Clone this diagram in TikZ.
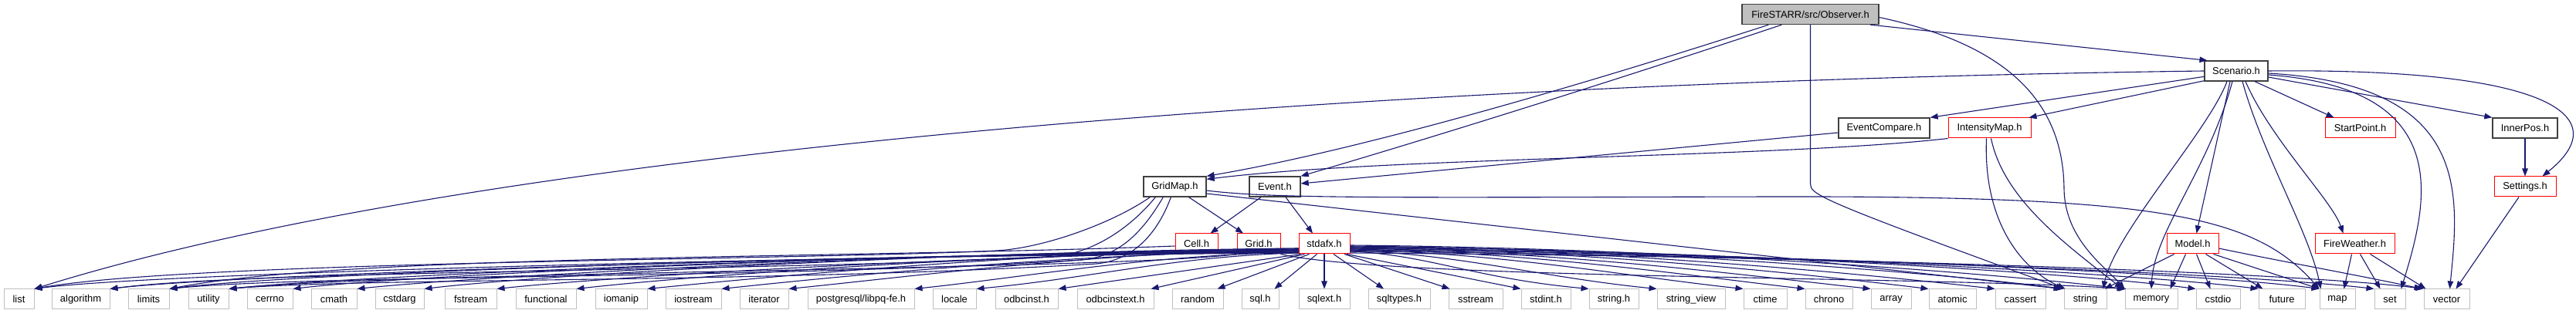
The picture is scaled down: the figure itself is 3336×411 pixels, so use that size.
\documentclass[tikz,border=0pt]{standalone}
\usepackage{fontspec}
\setmainfont{Liberation Sans}
\usetikzlibrary{arrows.meta}
\definecolor{navy}{HTML}{191970}
\definecolor{boxgray}{HTML}{BFBFBF}
\definecolor{boxdark}{HTML}{404040}
\newcommand\mknode[6]{\node[#2, minimum width=#4-#3] (#1) at ({(#3+#4)/2}, -#5) {#6};}
\newcommand\sdL[4]{\draw[dep] ([yshift=#2]sd.west) .. controls +(-#3,-4) and +(150,#4) .. (#1.north east);}
\newcommand\sdR[4]{\draw[dep] ([yshift=#2]sd.east) .. controls +(#3,-4) and +(-150,#4) .. (#1.north west);}
\begin{document}
\begin{tikzpicture}[x=1pt,y=1pt,
  base/.style={draw, rectangle, inner sep=0pt, minimum height=26pt, line width=1pt,
    font=\fontsize{12.9}{15}\selectfont, text=black},
  gbox/.style={base, draw=boxgray},
  rbox/.style={base, draw=red},
  dbox/.style={base, draw=boxdark, line width=1.3pt},
  rootbox/.style={base, draw=boxdark, fill=boxgray, line width=1.3pt},
  dep/.style={draw=navy, line width=1.1pt, -{Triangle[length=10pt,width=7.5pt]}}]
\fill[white] (0,0) rectangle (3336,-411);
\useasboundingbox (0,0) rectangle (3336,-411);
% top rows
\mknode{obs}{rootbox}{2256}{2433}{18.5}{FireSTARR/src/Observer.h}
\mknode{sc}{dbox}{2855}{2937}{92}{Scenario.h}
\mknode{ec}{dbox}{2381}{2499}{166}{EventCompare.h}
\mknode{im}{rbox}{2523}{2630}{166}{IntensityMap.h}
\mknode{sp}{rbox}{3011}{3102}{166}{StartPoint.h}
\mknode{ip}{dbox}{3228}{3312}{166}{InnerPos.h}
\mknode{gm}{dbox}{1481}{1562}{242}{GridMap.h}
\mknode{ev}{dbox}{1618}{1684}{242}{Event.h}
\mknode{st}{rbox}{3230}{3310}{242}{Settings.h}
\mknode{cell}{rbox}{1522}{1577}{316}{Cell.h}
\mknode{grid}{rbox}{1602}{1658}{316}{Grid.h}
\mknode{sd}{rbox}{1682}{1748}{316}{stdafx.h}
\mknode{md}{rbox}{2806}{2873}{316}{Model.h}
\mknode{fw}{rbox}{2998}{3101}{316}{FireWeather.h}
% bottom row
\mknode{list}{gbox}{5}{44}{388}{list}
\mknode{algorithm}{gbox}{67}{142}{388}{algorithm}
\mknode{limits}{gbox}{166}{219}{388}{limits}
\mknode{utility}{gbox}{244}{296}{388}{utility}
\mknode{cerrno}{gbox}{320}{379}{388}{cerrno}
\mknode{cmath}{gbox}{403}{462}{388}{cmath}
\mknode{cstdarg}{gbox}{486}{549}{388}{cstdarg}
\mknode{fstream}{gbox}{576}{643}{388}{fstream}
\mknode{functional}{gbox}{668}{746}{388}{functional}
\mknode{iomanip}{gbox}{771}{838}{388}{iomanip}
\mknode{iostream}{gbox}{862}{934}{388}{iostream}
\mknode{iterator}{gbox}{958}{1021}{388}{iterator}
\mknode{pg}{gbox}{1046}{1184}{388}{postgresql/libpq-fe.h}
\mknode{locale}{gbox}{1208}{1264}{388}{locale}
\mknode{odbcinst}{gbox}{1289}{1370}{388}{odbcinst.h}
\mknode{odbcinstext}{gbox}{1395}{1494}{388}{odbcinstext.h}
\mknode{random}{gbox}{1518}{1584}{388}{random}
\mknode{sqlh}{gbox}{1608}{1656}{388}{sql.h}
\mknode{sqlext}{gbox}{1682}{1748}{388}{sqlext.h}
\mknode{sqltypes}{gbox}{1772}{1852}{388}{sqltypes.h}
\mknode{sstream}{gbox}{1876}{1946}{388}{sstream}
\mknode{stdint}{gbox}{1970}{2034}{388}{stdint.h}
\mknode{stringh}{gbox}{2058}{2122}{388}{string.h}
\mknode{strview}{gbox}{2146}{2234}{388}{string\_view}
\mknode{ctime}{gbox}{2258}{2314}{388}{ctime}
\mknode{chrono}{gbox}{2338}{2399}{388}{chrono}
\mknode{array}{gbox}{2423}{2475}{388}{array}
\mknode{atomic}{gbox}{2498}{2559}{388}{atomic}
\mknode{cassert}{gbox}{2584}{2649}{388}{cassert}
\mknode{string}{gbox}{2673}{2728}{388}{string}
\mknode{memory}{gbox}{2752}{2820}{388}{memory}
\mknode{cstdio}{gbox}{2844}{2901}{388}{cstdio}
\mknode{future}{gbox}{2925}{2985}{388}{future}
\mknode{map}{gbox}{3004}{3050}{388}{map}
\mknode{set}{gbox}{3075}{3115}{388}{set}
\mknode{vector}{gbox}{3139}{3198}{388}{vector}
% Observer
\draw[dep] ([xshift=35]obs.south west) .. controls (2050,-110) and (1760,-195) .. (gm.north east);
\draw[dep] ([xshift=52]obs.south west) .. controls (2150,-85) and (1900,-165) .. (ev.north east);
\draw[dep] (obs.-10) -- (sc.160);
\draw[dep] (obs.south) -- (2344.5,-238) .. controls (2344.5,-252) and (2352,-258) .. (string.north west);
\draw[dep] ([yshift=-4]obs.east) .. controls (2610,-60) and (2672,-140) .. (2673,-245) .. controls (2674,-310) and (2725,-345) .. (memory.north west);
% Scenario
\draw[dep] (sc.west) .. controls (2000,-103) and (700,-170) .. (list.north east);
\draw[dep] (sc.190) -- (ec.north east);
\draw[dep] (sc.197) -- ([xshift=-3]im.north east);
\draw[dep] ([xshift=24]sc.south) -- ([xshift=12]sp.north west);
\draw[dep] ([yshift=-8]sc.east) -- (ip.north west);
\draw[dep] (sc.east) .. controls (3300,-88) and (3390,-150) .. ([xshift=-18]st.north east);
\draw[dep] ([xshift=-8]sc.south) -- ([xshift=5]md.north);
\draw[dep] ([xshift=12]sc.south) .. controls (2940,-180) and (3020,-260) .. ([xshift=-15]fw.north);
\draw[dep] ([xshift=-12]sc.south) .. controls (2860,-170) and (2740,-300) .. ([xshift=-5]string.north east);
\draw[dep] ([xshift=-5]sc.south) .. controls (2860,-220) and (2790,-300) .. (memory.north);
\draw[dep] ([xshift=8]sc.south) .. controls (2930,-200) and (2990,-300) .. ([xshift=2]map.north west);
\draw[dep] ([yshift=-5]sc.east) .. controls (3180,-115) and (3145,-260) .. ([xshift=-6]set.north east);
\draw[dep] ([yshift=-3]sc.east) .. controls (3200,-110) and (3185,-250) .. ([xshift=4]vector.north);
% IntensityMap
\draw[dep] (im.south west) .. controls (2300,-205) and (1800,-203) .. ([yshift=-4]gm.north east);
\draw[dep] ([xshift=-4]im.south) .. controls (2568,-290) and (2620,-350) .. ([xshift=2]string.north west);
\draw[dep] ([xshift=2]im.south) .. controls (2595,-260) and (2680,-320) .. ([xshift=-3]memory.north west);
% EventCompare
\draw[dep] ([yshift=-6]ec.west) -- ([yshift=4]ev.east);
% GridMap
\draw[dep] ([xshift=18]gm.south) -- ([xshift=-20]grid.north);
\draw[dep] ([yshift=-5]gm.east) .. controls (1650,-258) and (1800,-256) .. (2300,-255) .. controls (2800,-254) and (2920,-280) .. (map.north west);
\draw[dep] ([yshift=-9]gm.east) -- ([xshift=-3]string.north west);
\draw[dep] ([xshift=9]gm.south west) .. controls (1440,-290) and (1350,-322) .. (1290,-325) .. controls (1050,-337) and (250,-338) .. (list.north east);
\draw[dep] ([xshift=16]gm.south west) .. controls (1460,-300) and (1410,-330) .. (1360,-333) .. controls (1000,-352) and (330,-350) .. (algorithm.north east);
\draw[dep] ([xshift=26]gm.south west) .. controls (1480,-300) and (1450,-333) .. (1400,-337) .. controls (1000,-362) and (400,-356) .. (limits.north east);
\draw[dep] ([xshift=36]gm.south west) .. controls (1500,-300) and (1470,-337) .. (1420,-342) .. controls (1000,-367) and (470,-360) .. (utility.north east);
% Cell, Grid
\draw[dep] ([yshift=-3]cell.west) .. controls (1100,-335) and (450,-330) .. (limits.north east);
\draw[dep] (grid.south west) .. controls (1450,-350) and (520,-352) .. (utility.north east);
\draw[dep] (grid.south east) .. controls (1800,-362) and (2500,-358) .. ([xshift=2]memory.north west);
% Event
\draw[dep] ([xshift=-18]ev.south) -- ([xshift=-10]cell.north east);
\draw[dep] ([xshift=14]ev.south) -- ([xshift=-15]sd.north);
% Model
\draw[dep] ([xshift=10]md.south west) -- ([xshift=-3]string.north east);
\draw[dep] ([xshift=25]md.south west) -- ([xshift=-10]memory.north east);
\draw[dep] ([xshift=5]md.south) -- ([xshift=-10]cstdio.north);
\draw[dep] ([xshift=17]md.south) -- ([xshift=6]future.north west);
\draw[dep] ([xshift=27]md.south) -- (map.north west);
\draw[dep] ([yshift=-6]md.east) .. controls (2960,-340) and (3060,-358) .. ([xshift=-2]vector.north west);
% FireWeather
\draw[dep] ([xshift=-4]fw.south) -- ([xshift=-15]map.north east);
\draw[dep] ([xshift=7]fw.south) -- ([xshift=8]set.north west);
\draw[dep] ([xshift=20]fw.south) -- ([xshift=3]vector.north west);
% Settings, InnerPos
\draw[dep] ([xshift=-8]st.south) -- ([xshift=12]vector.north);
\draw[dep] (ip) -- (st);
% stdafx left
\sdL{list}{-12}{650}{20}
\sdL{algorithm}{-11}{620}{18}
\sdL{limits}{-10}{590}{20}
\sdL{utility}{-9}{560}{16}
\sdL{cerrno}{-8}{520}{18}
\sdL{cmath}{-7}{490}{16}
\sdL{cstdarg}{-6}{450}{18}
\sdL{fstream}{-10}{420}{16}
\sdL{functional}{-8}{380}{17}
\sdL{iomanip}{-6}{340}{15}
\sdL{iostream}{-9}{300}{16}
\sdL{iterator}{-7}{260}{15}
\sdL{pg}{-11}{200}{16}
\sdL{locale}{-12}{160}{14}
\draw[dep] ([xshift=3]sd.south west) -- (odbcinst.north east);
\draw[dep] ([xshift=8]sd.south west) -- ([xshift=-4]odbcinstext.north east);
\draw[dep] ([xshift=14]sd.south west) -- ([xshift=-8]random.north east);
\draw[dep] ([xshift=24]sd.south west) -- ([xshift=-6]sqlh.north east);
\draw[dep] (sd.south) -- (sqlext.north);
\draw[dep] ([xshift=12]sd.south) -- ([xshift=-20]sqltypes.north);
\draw[dep] ([xshift=26]sd.south) -- ([xshift=2]sstream.north west);
\draw[dep] (sd.-25) -- (stdint.north west);
% stdafx right
\sdR{stringh}{-10}{100}{14}
\sdR{strview}{-9}{140}{15}
\sdR{ctime}{-8}{200}{16}
\sdR{chrono}{-7}{240}{17}
\sdR{array}{-6}{280}{16}
\sdR{atomic}{-5}{320}{18}
\sdR{cassert}{-4}{360}{17}
\sdR{string}{-3}{400}{19}
\sdR{memory}{-2}{440}{18}
\sdR{cstdio}{-4}{480}{20}
\sdR{future}{-6}{520}{19}
\sdR{map}{-8}{560}{20}
\sdR{set}{-10}{600}{18}
\sdR{vector}{-12}{640}{20}
\end{tikzpicture}
\end{document}
